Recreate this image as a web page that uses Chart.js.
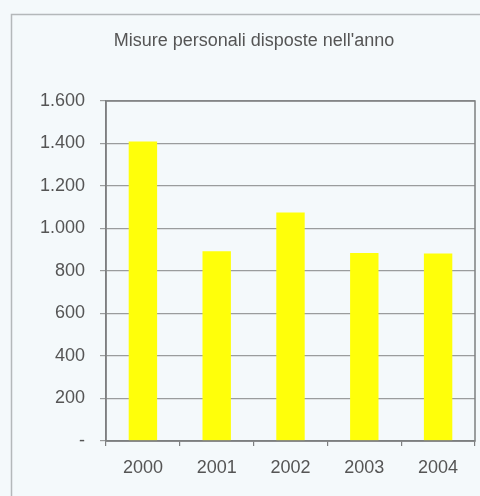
<!DOCTYPE html>
<html>
<head>
<meta charset="utf-8">
<script src="https://cdn.jsdelivr.net/npm/chart.js@4"></script>
<style>
html,body{margin:0;padding:0;background:#f4f9fb;}
canvas{display:block;}
</style>
</head>
<body>
<canvas id="c" width="480" height="496"></canvas>
<script>
const titleText = "Misure personali disposte nell'anno";
const categories = ["2000", "2001", "2002", "2003", "2004"];
const values = [1410, 893, 1075, 885, 882];
const yMin = 0, yMax = 1600, yStep = 200;

function fmt(v) {
  if (v === 0) return "-";
  const s = String(Math.round(v));
  return s.replace(/\B(?=(\d{3})+(?!\d))/g, ".");
}

const frame = {
  id: 'frame',
  beforeDraw(chart) {
    const ctx = chart.ctx;
    ctx.save();
    ctx.fillStyle = '#f4f9fb';
    ctx.fillRect(0, 0, chart.width, chart.height);
    ctx.strokeStyle = '#b4b8ba';
    ctx.lineWidth = 1.5;
    ctx.strokeRect(11.5, 14.5, 490, 500);
    ctx.fillStyle = '#555';
    ctx.font = '18px "Liberation Sans", Arial, sans-serif';
    ctx.textAlign = 'center';
    ctx.textBaseline = 'middle';
    ctx.fillText(titleText, 254, 41);
    ctx.restore();
  },
  afterDraw(chart) {
    const a = chart.chartArea, ctx = chart.ctx;
    ctx.save();
    ctx.strokeStyle = '#7d7f80';
    ctx.lineWidth = 1.5;
    ctx.strokeRect(a.left, a.top, a.right - a.left, a.bottom - a.top);
    ctx.restore();
  }
};

new Chart(document.getElementById('c'), {
  type: 'bar',
  data: {
    labels: categories,
    datasets: [{
      data: values,
      backgroundColor: '#ffff0a',
      borderWidth: 0,
      barPercentage: 0.385,
      categoryPercentage: 1
    }]
  },
  options: {
    responsive: false,
    animation: false,
    layout: { padding: { left: 0, right: 5, top: 101, bottom: 0 } },
    plugins: {
      legend: { display: false },
      tooltip: { enabled: false },
      title: { display: false }
    },
    scales: {
      x: {
        afterFit(s) { s.height = 55; },
        grid: { offset: true, drawOnChartArea: false, tickLength: 5, color: '#7d7f80', lineWidth: 1.2 },
        border: { display: true, color: '#7d7f80', width: 1.5 },
        ticks: { color: '#555', padding: 11, font: { family: 'Liberation Sans, Arial, sans-serif', size: 18 } }
      },
      y: {
        min: yMin, max: yMax,
        afterFit(s) { s.width = 106; },
        grid: { color: '#9a9c9d', lineWidth: 1.2, tickLength: 6 },
        border: { display: true, color: '#7d7f80', width: 1.5 },
        ticks: { stepSize: yStep, color: '#555', padding: 15, callback: v => fmt(v),
                 font: { family: 'Liberation Sans, Arial, sans-serif', size: 18 } }
      }
    }
  },
  plugins: [frame]
});
</script>
</body>
</html>
